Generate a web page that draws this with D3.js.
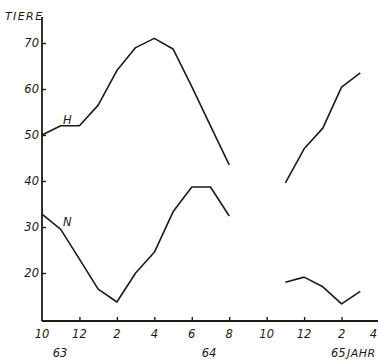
<!DOCTYPE html>
<html><head><meta charset="utf-8">
<script src="https://cdn.jsdelivr.net/npm/d3@7"></script>
<style>body{margin:0;background:#fff}svg{display:block}text{font-family:"DejaVu Sans",sans-serif;font-style:italic;fill:#1e1a14}</style>
</head><body><svg id="c" width="378" height="362"></svg>
<script>
// months from Oct 1963 (index 0)
const monthsA = [0,1,2,3,4,5,6,7,8,9,10];
const monthsB = [13,14,15,16,17];
const hA = [50,52,52,56.5,64,69,71,68.7,60.5,52,43.5];
const hB = [39.6,47,51.5,60.4,63.5];
const nA = [32.8,29.5,23,16.5,13.7,20,24.5,33.3,38.7,38.7,32.4];
const nB = [18,19.1,17,13.3,16];
const xTickMonths = [0,2,4,6,8,10,12,14,16,18];
const xTickLabels = ["10","12","2","4","6","8","10","12","2","4"];
const yTicks = [20,30,40,50,60,70];

const svg = d3.select("#c");
const x = d3.scaleLinear().domain([0,18]).range([42,379]);
const y = d3.scaleLinear().domain([20,70]).range([273,43]);
const ink = "#1e1a14";

// axes
const g = svg.append("g");
g.append("line").attr("x1",x(0)).attr("x2",378).attr("y1",321).attr("y2",321).attr("stroke",ink).attr("stroke-width",1.8);
g.append("line").attr("x1",x(0)).attr("x2",x(0)).attr("y1",17).attr("y2",321).attr("stroke",ink).attr("stroke-width",1.8);

const yAxis = d3.axisRight(y).tickValues(yTicks).tickSize(4).tickFormat("");
const ya = svg.append("g").attr("transform",`translate(${x(0)},0)`).call(yAxis);
ya.select(".domain").remove();
ya.selectAll("line").attr("stroke",ink).attr("stroke-width",1.4);
yTicks.forEach(v=>{
  svg.append("text").attr("x",39).attr("y",y(v)+4).attr("text-anchor","end").attr("font-size",11.5).text(v);
});

const xAxis = d3.axisTop(x).tickValues(xTickMonths.slice(1)).tickSize(4).tickFormat("");
const xa = svg.append("g").attr("transform","translate(0,321)").call(xAxis);
xa.select(".domain").remove();
xa.selectAll("line").attr("stroke",ink).attr("stroke-width",1.4);
xTickMonths.forEach((m,i)=>{
  const last = i === xTickMonths.length-1;
  svg.append("text").attr("x",last ? 377 : x(m)).attr("y",338)
    .attr("text-anchor",last ? "end" : "middle").attr("font-size",11.5).text(xTickLabels[i]);
});
svg.append("text").attr("x",60).attr("y",357).attr("text-anchor","middle").attr("font-size",11.5).text("63");
svg.append("text").attr("x",209).attr("y",357).attr("text-anchor","middle").attr("font-size",11.5).text("64");
svg.append("text").attr("x",331).attr("y",357).attr("font-size",11.5).text("65");
svg.append("text").attr("x",347).attr("y",357).attr("font-size",11).attr("letter-spacing",0.5).text("JAHR");
svg.append("text").attr("x",5).attr("y",20).attr("font-size",11).attr("letter-spacing",1.4).text("TIERE");

const line = d3.line().x(d=>x(d[0])).y(d=>y(d[1]));
function draw(ms, vs){
  svg.append("path").datum(ms.map((m,i)=>[m,vs[i]])).attr("d",line)
    .attr("fill","none").attr("stroke",ink).attr("stroke-width",1.6).attr("stroke-linejoin","round");
}
draw(monthsA,hA); draw(monthsB,hB); draw(monthsA,nA); draw(monthsB,nB);

svg.append("text").attr("x",63).attr("y",124).attr("font-size",11.5).text("H");
svg.append("text").attr("x",63).attr("y",226).attr("font-size",11.5).text("N");
</script></body></html>
